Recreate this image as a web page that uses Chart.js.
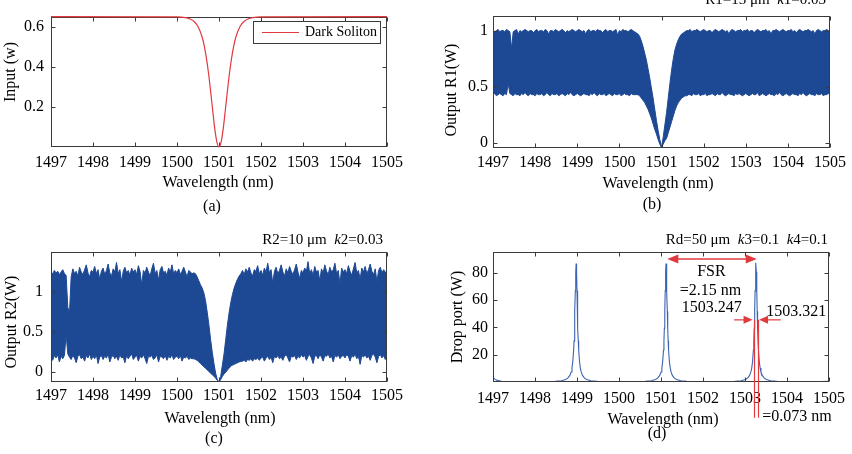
<!DOCTYPE html>
<html><head><meta charset="utf-8">
<script src="https://cdn.jsdelivr.net/npm/chart.js@4.4.0/dist/chart.umd.min.js"></script>
<style>
html,body{margin:0;padding:0;background:#fff;}
#wrap{position:relative;width:852px;height:454px;overflow:hidden;background:#fff;}
canvas{position:absolute;}
</style></head><body>
<div id="wrap">
<canvas id="ca" width="426" height="227" style="left:0;top:0"></canvas>
<canvas id="cb" width="426" height="227" style="left:426px;top:0"></canvas>
<canvas id="cc" width="426" height="227" style="left:0;top:227px"></canvas>
<canvas id="cd" width="426" height="227" style="left:426px;top:227px"></canvas>
</div>
<script>
// ---------------- DATA ----------------
const wavelengthTicks = [1497, 1498, 1499, 1500, 1501, 1502, 1503, 1504, 1505];
const ticksA = [0.2, 0.4, 0.6];
const ticksB = [0, 0.5, 1];
const ticksC = [0, 0.5, 1];
const ticksD = [20, 40, 60, 80];

// (a) input dark soliton
const solitonX = [1497, 1500.0, 1500.2, 1500.3, 1500.4, 1500.5, 1500.6, 1500.65, 1500.7, 1500.75, 1500.8, 1500.85, 1500.9, 1500.95, 1501.0,
  1501.05, 1501.1, 1501.15, 1501.2, 1501.25, 1501.3, 1501.35, 1501.4, 1501.5, 1501.6, 1501.7, 1501.8, 1502.0, 1505];
const solitonY = [0.65, 0.649, 0.645, 0.639, 0.627, 0.601, 0.547, 0.503, 0.443, 0.369, 0.279, 0.182, 0.090, 0.024, 0.0,
  0.024, 0.090, 0.182, 0.279, 0.369, 0.443, 0.503, 0.547, 0.601, 0.627, 0.639, 0.645, 0.649, 0.65];

// sampling step (nm) of the band envelopes in (b) and (c), starting at 1497 nm
const bandStep = 0.04;

// (b) output R1 : upper / lower envelope of the oscillating signal
const outR1Upper = [
  1.00,0.99,1.00,1.01,0.99,1.00,1.00,0.99,1.01,1.00,
  0.99,0.84,0.99,
  1.00,1.01,0.97,1.00,0.99,1.00,1.01,1.00,0.99,1.00,1.00,0.98,
  1.00,1.01,0.99,1.00,1.00,0.99,1.01,1.00,0.97,1.00,1.00,0.99,1.01,1.00,0.99,1.00,1.01,1.00,0.98,1.00,0.99,1.00,1.01,1.00,0.99,
  1.00,1.01,1.00,0.99,1.00,0.97,1.00,1.01,0.99,1.00,1.00,0.99,1.01,1.00,1.00,0.98,1.00,1.01,0.99,1.00,1.00,0.99,1.00,1.01,0.96,
  1.00,0.99,1.01,1.00,1.00,0.99,1.00,1.01,1.00,0.99,0.98,
  0.97,0.95,0.91,0.86,0.80,0.74,0.66,0.58,0.49,0.40,0.30,0.20,0.11,0.03,-0.04,0.05,0.16,0.27,0.40,0.53,0.65,0.75,0.83,0.88,0.92,0.95,0.97,0.98,
  0.99,1.00,1.00,1.01,0.99,1.00,1.00,1.01,1.00,0.99,1.00,
  1.01,1.00,0.99,1.00,1.00,0.98,1.00,1.01,1.00,0.99,1.00,1.01,1.00,0.99,1.00,0.97,1.00,1.01,1.00,0.99,1.00,1.00,1.01,0.99,1.00,
  1.00,1.01,0.99,1.00,1.00,0.98,1.00,1.01,1.00,0.99,1.00,1.00,1.01,0.99,1.00,0.97,1.00,1.00,1.01,1.00,0.99,1.00,1.01,1.00,0.99,
  1.00,1.00,1.01,0.99,1.00,0.98,1.00,1.01,1.00,0.99,1.00,1.00,1.01,1.00,0.99,1.00,0.97,1.00,1.01,1.00,0.99,1.00,1.00,1.01,1.00,0.99
];
const outR1Lower = [
  0.43,0.44,0.42,0.43,0.44,0.43,0.42,0.44,0.43,0.53,
  0.44,0.43,0.42,
  0.44,0.43,0.43,0.42,0.44,0.43,0.45,0.43,0.42,0.44,0.43,0.43,
  0.42,0.44,0.43,0.43,0.44,0.42,0.43,0.45,0.43,0.42,0.44,0.43,0.43,0.44,0.42,0.43,0.44,0.43,0.42,0.44,0.43,0.45,0.43,0.42,0.43,
  0.44,0.43,0.42,0.43,0.44,0.43,0.43,0.42,0.44,0.43,0.45,0.43,0.42,0.44,0.43,0.43,0.44,0.42,0.43,0.44,0.43,0.42,0.44,0.43,0.43,
  0.44,0.42,0.43,0.44,0.43,0.43,0.42,0.44,0.43,0.43,0.43,
  0.43,0.42,0.40,0.38,0.36,0.33,0.30,0.26,0.22,0.17,0.12,0.08,0.03,-0.01,-0.04,-0.01,0.02,0.04,0.09,0.14,0.19,0.24,0.29,0.33,0.36,0.38,0.40,0.41,
  0.42,0.42,0.43,0.43,0.42,0.44,0.43,0.43,0.44,0.42,0.43,
  0.43,0.44,0.42,0.43,0.43,0.44,0.43,0.42,0.44,0.43,0.43,0.45,0.43,0.42,0.43,0.44,0.43,0.43,0.42,0.44,0.43,0.44,0.43,0.42,0.43,
  0.44,0.43,0.42,0.43,0.44,0.43,0.43,0.45,0.42,0.43,0.44,0.43,0.42,0.43,0.44,0.43,0.43,0.42,0.44,0.43,0.45,0.43,0.42,0.43,0.44,
  0.43,0.42,0.43,0.44,0.43,0.43,0.42,0.44,0.43,0.45,0.43,0.42,0.43,0.44,0.43,0.43,0.42,0.44,0.43,0.43,0.44,0.42,0.43,0.43,0.44,0.43
];

// (c) output R2 : upper / lower envelope
const outR2Upper = [
  1.24,1.22,1.26,1.23,1.25,1.21,1.24,1.27,1.22,1.20,
  0.80,0.73,1.18,
  1.28,1.22,1.25,1.19,1.30,1.24,1.21,1.27,1.33,1.23,1.18,1.26,
  1.24,1.31,1.22,1.27,1.15,1.25,1.29,1.21,1.26,1.34,1.23,1.19,1.28,1.24,1.36,1.22,1.27,1.12,1.25,1.30,1.23,1.26,1.20,1.29,1.24,
  1.27,1.21,1.32,1.25,1.08,1.26,1.23,1.30,1.24,1.19,1.28,1.35,1.22,1.26,1.14,1.27,1.31,1.23,1.25,1.20,1.29,1.24,1.33,1.22,1.26,
  1.23,1.28,1.21,1.25,1.30,1.24,1.18,1.26,1.24,1.22,1.23,
  1.22,1.18,1.13,1.08,1.04,0.98,0.88,0.74,0.58,0.40,0.24,0.10,-0.02,-0.10,-0.13,-0.06,0.08,0.22,0.40,0.58,0.73,0.86,0.96,1.04,1.10,1.15,1.19,1.22,
  1.26,1.21,1.28,1.24,1.30,1.23,1.19,1.27,1.25,1.32,1.22,
  1.26,1.20,1.29,1.24,1.35,1.23,1.27,1.10,1.25,1.30,1.22,1.26,1.33,1.24,1.19,1.28,1.23,1.31,1.25,1.21,1.27,1.34,1.24,1.16,1.26,
  1.23,1.29,1.25,1.37,1.22,1.27,1.20,1.31,1.24,1.26,1.13,1.28,1.23,1.33,1.25,1.21,1.30,1.24,1.27,1.35,1.22,1.26,1.09,1.29,1.24,
  1.27,1.22,1.32,1.25,1.20,1.28,1.36,1.23,1.26,1.15,1.29,1.24,1.31,1.22,1.27,1.34,1.25,1.21,1.28,1.12,1.26,1.30,1.23,1.27,1.24,1.20
];
const outR2Lower = [
  0.18,0.14,0.20,0.17,0.21,0.12,0.19,0.16,0.20,0.46,
  0.22,0.18,0.15,
  0.20,0.17,0.11,0.19,0.21,0.16,0.18,0.13,0.20,0.17,0.22,0.15,
  0.19,0.16,0.21,0.10,0.18,0.20,0.15,0.19,0.17,0.22,0.12,0.18,0.20,0.16,0.19,0.14,0.21,0.17,0.18,0.11,0.20,0.16,0.19,0.22,0.15,
  0.18,0.20,0.13,0.19,0.17,0.21,0.16,0.10,0.19,0.18,0.20,0.15,0.17,0.21,0.12,0.19,0.18,0.16,0.20,0.14,0.19,0.17,0.21,0.15,0.18,
  0.19,0.16,0.20,0.13,0.18,0.17,0.19,0.15,0.17,0.16,0.16,
  0.15,0.14,0.12,0.10,0.08,0.06,0.04,0.02,0.00,-0.02,-0.04,-0.06,-0.08,-0.11,-0.13,-0.10,-0.06,-0.03,-0.01,0.02,0.04,0.07,0.08,0.09,0.10,0.11,0.12,0.125,
  0.13,0.14,0.12,0.15,0.14,0.16,0.13,0.16,0.15,0.17,0.14,
  0.17,0.18,0.13,0.17,0.19,0.15,0.18,0.11,0.19,0.17,0.20,0.16,0.18,0.14,0.19,0.21,0.17,0.12,0.19,0.18,0.20,0.15,0.19,0.17,0.21,
  0.18,0.20,0.14,0.19,0.21,0.17,0.10,0.19,0.20,0.16,0.21,0.18,0.13,0.20,0.19,0.22,0.17,0.19,0.12,0.20,0.18,0.21,0.16,0.19,0.20,
  0.17,0.21,0.19,0.13,0.20,0.18,0.22,0.16,0.19,0.09,0.20,0.18,0.21,0.17,0.19,0.14,0.20,0.22,0.18,0.11,0.19,0.21,0.17,0.20,0.15,0.19
];

// (d) drop port
const dropX = [1497, 1497.05, 1497.1, 1497.2, 1497.4, 1497.8, 1498.2,
  1498.48,1498.63,1498.73,1498.78,1498.83,1498.86,1498.88,1498.90,1498.92,1498.93,1498.94,1498.95,1498.96,1498.97,1498.98,
  1498.99,1499.00,1499.01,1499.02,1499.03,1499.04,1499.06,1499.08,1499.10,1499.13,1499.18,1499.23,1499.33,1499.48,
  1499.8, 1500.05, 1500.3,
  1500.62,1500.77,1500.87,1500.92,1500.97,1501.00,1501.02,1501.04,1501.06,1501.07,1501.08,1501.09,1501.10,1501.11,1501.12,
  1501.13,1501.14,1501.15,1501.16,1501.17,1501.18,1501.20,1501.22,1501.24,1501.27,1501.32,1501.37,1501.47,1501.62,
  1501.9, 1502.2, 1502.45,
  1502.76,1502.91,1503.01,1503.06,1503.11,1503.14,1503.16,1503.18,1503.20,1503.21,1503.22,1503.23,1503.24,1503.25,1503.26,
  1503.27,1503.28,1503.29,1503.30,1503.31,1503.32,1503.34,1503.36,1503.38,1503.41,1503.46,1503.51,1503.61,1503.76,
  1504.1, 1504.5, 1504.8, 1505];
const dropY = [3.4, 1.9, 1.2, 0.6, 0.3, 0.2, 0.28,
  0.46,0.94,1.82,2.81,4.86,7.37,10.2,15.0,23.5,30.2,39.5,51.9,66.9,80.9,87,
  80.9,66.9,51.9,39.5,30.2,23.5,15.0,10.2,7.37,4.86,2.81,1.82,0.94,0.46,
  0.22, 0.2, 0.22,
  0.46,0.94,1.82,2.81,4.86,7.37,10.2,15.0,23.5,30.2,39.5,51.9,66.9,80.9,87,
  80.9,66.9,51.9,39.5,30.2,23.5,15.0,10.2,7.37,4.86,2.81,1.82,0.94,0.46,
  0.22, 0.2, 0.22,
  0.46,0.94,1.82,2.81,4.86,7.37,10.2,15.0,23.5,30.2,39.5,51.9,66.9,80.9,87.5,
  80.9,66.9,51.9,39.5,30.2,23.5,15.0,10.2,7.37,4.86,2.81,1.82,0.94,0.46,
  0.25, 0.22, 0.35, 0.6];

// ---------------- STYLE ----------------
const FONT = "'Liberation Serif','Times New Roman',serif";
const FRAME = '#3a3a3a';
const BAND = '#1d4894';
const DROP = '#3d64b2';
const RED = '#e0393e';
const TL = 4;

function pts(xs, ys) { return ys.map((y, i) => ({ x: xs[i], y })); }
function bandPts(ys) { return ys.map((y, i) => ({ x: 1497 + i * bandStep, y })); }

function drawSegs(ctx, segs, x, y, align, size) {
  let total = 0;
  segs.forEach(s => { ctx.font = (s[1] ? 'italic ' : '') + size + 'px ' + FONT; total += ctx.measureText(s[0]).width; });
  let cx = align === 'right' ? x - total : (align === 'center' ? x - total / 2 : x);
  ctx.textAlign = 'left';
  segs.forEach(s => { ctx.font = (s[1] ? 'italic ' : '') + size + 'px ' + FONT; ctx.fillText(s[0], cx, y); cx += ctx.measureText(s[0]).width; });
}

function arrowHead(ctx, x, y, dir, len, half) {
  ctx.beginPath();
  ctx.moveTo(x, y);
  ctx.lineTo(x - dir * len, y - half);
  ctx.lineTo(x - dir * len, y + half);
  ctx.closePath();
  ctx.fill();
}

function drawFrame(chart) {
  const ctx = chart.ctx, a = chart.chartArea;
  const xs = chart.scales.x, ys = chart.scales.y;
  ctx.save();
  ctx.strokeStyle = FRAME; ctx.lineWidth = 1;
  const L = Math.round(a.left) + 0.5, T = Math.round(a.top) + 0.5, R = Math.round(a.right) - 0.5, B = Math.round(a.bottom) - 0.5;
  ctx.strokeRect(L, T, R - L, B - T);
  ctx.beginPath();
  xs.ticks.forEach(t => {
    const px = Math.round(xs.getPixelForValue(t.value)) + 0.5;
    ctx.moveTo(px, B); ctx.lineTo(px, B - TL);
    ctx.moveTo(px, T); ctx.lineTo(px, T + TL);
  });
  ys.ticks.forEach(t => {
    const py = Math.round(ys.getPixelForValue(t.value)) + 0.5;
    ctx.moveTo(L, py); ctx.lineTo(L + TL, py);
    ctx.moveTo(R, py); ctx.lineTo(R - TL, py);
  });
  ctx.stroke();
  ctx.restore();
}

const decor = {
  id: 'decor',
  beforeDatasetsDraw(chart, args, o) { if (!o.frameOnTop) drawFrame(chart); },
  afterDatasetsDraw(chart, args, o) { if (o.frameOnTop) drawFrame(chart); },
  afterDraw(chart, args, o) {
    const ctx = chart.ctx;
    const ox = o.ox, oy = o.oy;
    ctx.save();
    ctx.fillStyle = '#000';
    ctx.textBaseline = 'middle';
    // y label
    ctx.save();
    ctx.translate(o.ylabel.x - ox, o.ylabel.y - oy);
    ctx.rotate(-Math.PI / 2);
    ctx.font = '16px ' + FONT; ctx.textAlign = 'center';
    ctx.fillText(o.ylabel.text, 0, 0);
    ctx.restore();
    // x label and panel tag
    ctx.font = '16px ' + FONT; ctx.textAlign = 'center';
    ctx.fillText(o.xlabel.text, o.xlabel.x - ox, o.xlabel.y - oy);
    ctx.fillText(o.tag.text, o.tag.x - ox, o.tag.y - oy);
    // title
    if (o.title) {
      ctx.textBaseline = 'alphabetic';
      drawSegs(ctx, o.title.segs, o.title.x - ox, o.title.y - oy, 'right', 15);
    }
    // legend
    if (o.legend) {
      const lg = o.legend;
      ctx.fillStyle = '#fff';
      ctx.fillRect(lg.x - ox, lg.y - oy, lg.w, lg.h);
      ctx.strokeStyle = FRAME; ctx.lineWidth = 1;
      ctx.strokeRect(lg.x - ox + 0.5, lg.y - oy + 0.5, lg.w, lg.h);
      ctx.strokeStyle = RED; ctx.lineWidth = 1.2;
      const cy = lg.y - oy + lg.h / 2 + 0.5;
      ctx.beginPath(); ctx.moveTo(lg.x - ox + 9, cy); ctx.lineTo(lg.x - ox + 46, cy); ctx.stroke();
      ctx.fillStyle = '#000'; ctx.font = '14px ' + FONT; ctx.textAlign = 'left'; ctx.textBaseline = 'middle';
      ctx.fillText(lg.text, lg.x - ox + 52, cy);
    }
    // annotations (data coordinates)
    if (o.notes) {
      const xs = chart.scales.x, ys = chart.scales.y;
      const X = v => xs.getPixelForValue(v), Y = v => ys.getPixelForValue(v);
      const n = o.notes;
      ctx.strokeStyle = RED; ctx.fillStyle = RED;
      // FSR double arrow
      ctx.lineWidth = 1.6;
      const ya = Y(n.fsr.y);
      ctx.beginPath(); ctx.moveTo(X(n.fsr.x1) + 6, ya); ctx.lineTo(X(n.fsr.x2) - 6, ya); ctx.stroke();
      arrowHead(ctx, X(n.fsr.x1), ya, -1, 11, 4.5);
      arrowHead(ctx, X(n.fsr.x2), ya, 1, 11, 4.5);
      // small arrows
      ctx.lineWidth = 1.2;
      n.arrows.forEach(ar => {
        const y = Y(ar.y), x1 = X(ar.from), x2 = X(ar.to), dir = x2 > x1 ? 1 : -1;
        ctx.beginPath(); ctx.moveTo(x1, y); ctx.lineTo(x2 - dir * 5, y); ctx.stroke();
        arrowHead(ctx, x2, y, dir, 9, 4);
      });
      // vertical marker lines
      n.vlines.forEach(v => {
        const x = Math.round(X(v.x)) + 0.5;
        ctx.beginPath(); ctx.moveTo(x, Y(v.y1)); ctx.lineTo(x, Y(v.y2)); ctx.stroke();
      });
      ctx.fillStyle = '#000'; ctx.textBaseline = 'middle'; ctx.font = '16px ' + FONT;
      n.texts.forEach(t => { ctx.textAlign = t.align; ctx.fillText(t.text, X(t.x), Y(t.y)); });
    }
    ctx.restore();
  }
};

function baseOptions(p) {
  return {
    responsive: false, animation: false, devicePixelRatio: 1,
    layout: { padding: { left: 0, top: p.top, right: p.right, bottom: 0 } },
    plugins: { legend: { display: false }, tooltip: { enabled: false }, decor: p.decor },
    elements: { point: { radius: 0 }, line: { tension: 0 } },
    scales: {
      x: {
        type: 'linear', min: 1497, max: 1505,
        afterBuildTicks: s => { s.ticks = wavelengthTicks.map(v => ({ value: v })); },
        afterFit: s => { s.height = p.xh; },
        grid: { display: false, drawTicks: false }, border: { display: false },
        ticks: { padding: p.xpad, color: '#000', font: { family: FONT, size: 16 }, maxRotation: 0, autoSkip: false, callback: v => String(v) }
      },
      y: {
        type: 'linear', min: p.ymin, max: p.ymax,
        afterBuildTicks: s => { s.ticks = p.yticks.map(v => ({ value: v })); },
        afterFit: s => { s.width = p.yw; },
        grid: { display: false, drawTicks: false }, border: { display: false },
        ticks: { padding: p.ypad, color: '#000', font: { family: FONT, size: 16 }, callback: v => String(v) }
      }
    }
  };
}

Chart.register(decor);

// (a)
new Chart(document.getElementById('ca'), {
  type: 'line',
  data: { datasets: [{ data: pts(solitonX, solitonY), borderColor: RED, borderWidth: 1.2, fill: false, cubicInterpolationMode: 'monotone', clip: false }] },
  options: baseOptions({
    top: 16, right: 39, xh: 80, yw: 51, xpad: 6, ypad: 7, ymin: 0, ymax: 0.65, yticks: ticksA,
    decor: {
      ox: 0, oy: 0, frameOnTop: false,
      ylabel: { text: 'Input (w)', x: 11, y: 72 },
      xlabel: { text: 'Wavelength (nm)', x: 218, y: 183 },
      tag: { text: '(a)', x: 212, y: 207 },
      legend: { x: 253, y: 21, w: 127, h: 22, text: 'Dark Soliton' }
    }
  })
});

// (b)
new Chart(document.getElementById('cb'), {
  type: 'line',
  data: { datasets: [
    { data: bandPts(outR1Upper), borderColor: BAND, backgroundColor: BAND, borderWidth: 1, fill: '+1' },
    { data: bandPts(outR1Lower), borderColor: BAND, backgroundColor: BAND, borderWidth: 1, fill: false }
  ] },
  options: baseOptions({
    top: 16, right: 22, xh: 79, yw: 67, xpad: 5, ypad: 5, ymin: -0.045, ymax: 1.13, yticks: ticksB,
    decor: {
      ox: 426, oy: 0, frameOnTop: true,
      ylabel: { text: 'Output R1(W)', x: 452, y: 90 },
      xlabel: { text: 'Wavelength (nm)', x: 658, y: 184 },
      tag: { text: '(b)', x: 652, y: 205 },
      title: { segs: [['R1=15 \u03bcm  ', false], ['k', true], ['1=0.03', false]], x: 826, y: 3.5 }
    }
  })
});

// (c)
new Chart(document.getElementById('cc'), {
  type: 'line',
  data: { datasets: [
    { data: bandPts(outR2Upper), borderColor: BAND, backgroundColor: BAND, borderWidth: 1, fill: '+1' },
    { data: bandPts(outR2Lower), borderColor: BAND, backgroundColor: BAND, borderWidth: 1, fill: false }
  ] },
  options: baseOptions({
    top: 25, right: 39, xh: 72, yw: 51, xpad: 4, ypad: 8, ymin: -0.13, ymax: 1.49, yticks: ticksC,
    decor: {
      ox: 0, oy: 227, frameOnTop: true,
      ylabel: { text: 'Output R2(W)', x: 12, y: 322 },
      xlabel: { text: 'Wavelength (nm)', x: 220, y: 419 },
      tag: { text: '(c)', x: 214, y: 439 },
      title: { segs: [['R2=10 \u03bcm  ', false], ['k', true], ['2=0.03', false]], x: 383, y: 244 }
    }
  })
});

// (d)
new Chart(document.getElementById('cd'), {
  type: 'line',
  data: { datasets: [{ data: pts(dropX, dropY), borderColor: DROP, borderWidth: 1.1, fill: false }] },
  options: baseOptions({
    top: 25, right: 22, xh: 72, yw: 67, xpad: 7, ypad: 5, ymin: 0, ymax: 95.4, yticks: ticksD,
    decor: {
      ox: 426, oy: 227, frameOnTop: true,
      ylabel: { text: 'Drop port (W)', x: 458, y: 317 },
      xlabel: { text: 'Wavelength (nm)', x: 663, y: 420 },
      tag: { text: '(d)', x: 657, y: 434 },
      title: { segs: [['Rd=50 \u03bcm  ', false], ['k', true], ['3=0.1  ', false], ['k', true], ['4=0.1', false]], x: 828, y: 244 },
      notes: {
        fsr: { x1: 1501.15, x2: 1503.28, y: 90.3 },
        arrows: [ { from: 1502.74, to: 1503.18, y: 45.6 }, { from: 1503.85, to: 1503.335, y: 45.6 } ],
        vlines: [ { x: 1503.225, y1: 45.6, y2: -26.2 }, { x: 1503.305, y1: 45.6, y2: -26.2 } ],
        texts: [
          { text: 'FSR', x: 1502.2, y: 80.8, align: 'center' },
          { text: '=2.15 nm', x: 1502.18, y: 67.1, align: 'center' },
          { text: '1503.247', x: 1502.21, y: 54.2, align: 'center' },
          { text: '1503.321', x: 1504.22, y: 51.7, align: 'center' },
          { text: '=0.073 nm', x: 1503.41, y: -25.2, align: 'left' }
        ]
      }
    }
  })
});
</script>
</body></html>
